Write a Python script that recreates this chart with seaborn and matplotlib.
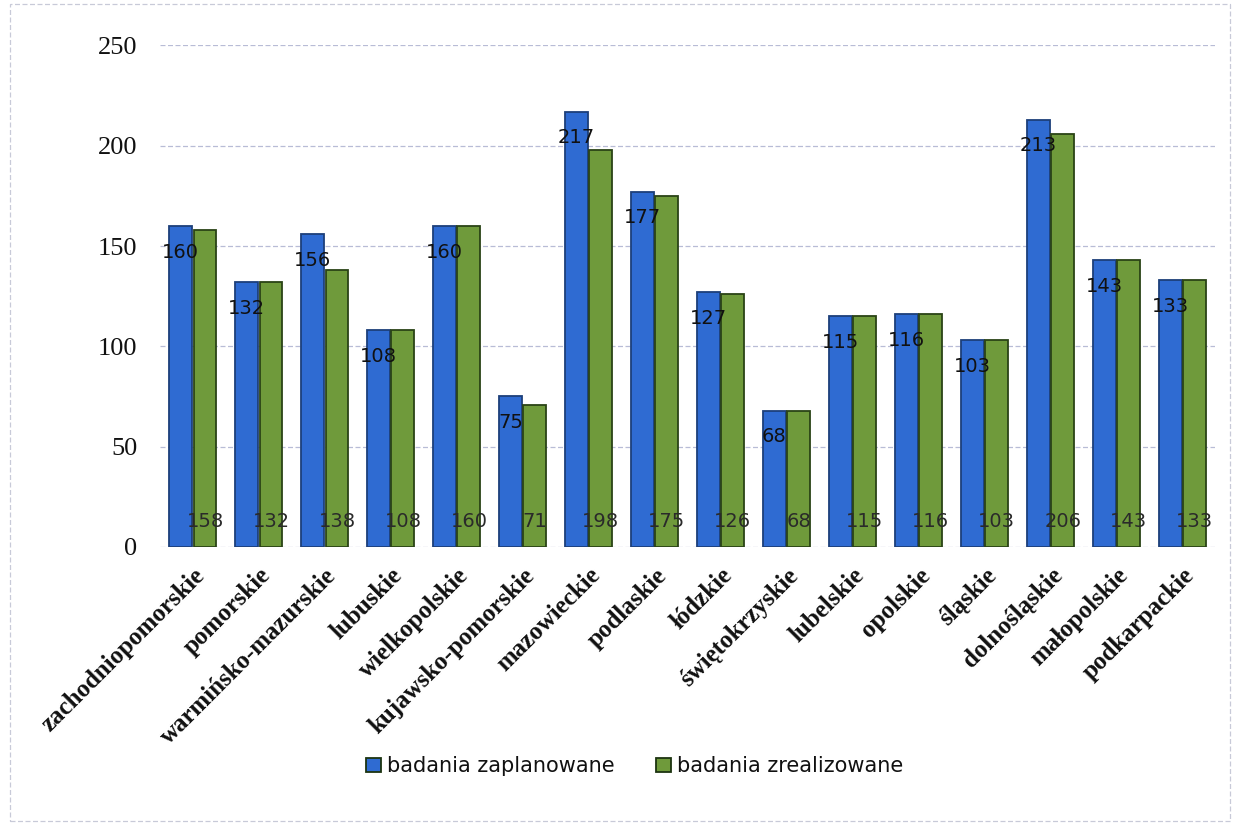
import matplotlib
matplotlib.use("Agg")
import matplotlib.pyplot as plt
import seaborn as sns
import pandas as pd
from matplotlib.patches import Rectangle

regions = ["zachodniopomorskie", "pomorskie", "warmińsko-mazurskie", "lubuskie",
           "wielkopolskie", "kujawsko-pomorskie", "mazowieckie", "podlaskie",
           "łódzkie", "świętokrzyskie", "lubelskie", "opolskie", "śląskie",
           "dolnośląskie", "małopolskie", "podkarpackie"]
planned = [160, 132, 156, 108, 160, 75, 217, 177, 127, 68, 115, 116, 103, 213, 143, 133]
realized = [158, 132, 138, 108, 160, 71, 198, 175, 126, 68, 115, 116, 103, 206, 143, 133]
series_names = ["badania zaplanowane", "badania zrealizowane"]
yticks = [0, 50, 100, 150, 200, 250]

df = pd.DataFrame({
    "region": regions * 2,
    "value": planned + realized,
    "series": [series_names[0]] * len(regions) + [series_names[1]] * len(regions),
})

sns.set_theme(style="white")
plt.rcParams['font.family'] = ['Liberation Serif', 'DejaVu Serif']

fig = plt.figure(figsize=(12.39, 8.25), dpi=100)
ax = fig.add_axes([0.129, 0.337, 0.852, 0.608])

palette = {series_names[0]: "#2f6bd2", series_names[1]: "#6f9a3b"}
sns.barplot(data=df, x="region", y="value", hue="series", palette=palette,
            width=0.74, gap=0.06, edgecolor="#1c3410", linewidth=1.3,
            saturation=1, ax=ax, legend=True)

for bar in ax.containers[0]:
    bar.set_edgecolor("#1d3f7a")
for bar in ax.containers[1]:
    bar.set_edgecolor("#2a4316")

ax.set_ylim(0, 250)
ax.set_xlim(-0.5, len(regions) - 0.5)
ax.set_yticks(yticks)
ax.set_yticklabels([str(t) for t in yticks], fontsize=19, family='Liberation Serif',
                   color="#111111")
ax.yaxis.grid(True, color="#b8bcd6", linestyle=(0, (4, 2)), linewidth=0.9)
ax.set_axisbelow(True)
for s in ax.spines.values():
    s.set_visible(False)
ax.tick_params(axis='y', length=0, pad=16)
ax.tick_params(axis='x', length=0, pad=12)
ax.set_xlabel("")
ax.set_ylabel("")
ax.set_xticks(range(len(regions)))
ax.set_xticklabels(regions, rotation=45, ha='right', rotation_mode='anchor',
                   fontsize=18, fontweight='bold', family='Liberation Serif',
                   color="#111111")

# value labels
for bar, v in zip(ax.containers[0], planned):
    cx = bar.get_x() + bar.get_width() / 2
    ax.text(cx, v - 13, str(v), ha='center', va='center', fontsize=14,
            color="#111111", family='DejaVu Sans')
for bar, v in zip(ax.containers[1], realized):
    cx = bar.get_x() + bar.get_width() / 2
    ax.text(cx, 12.5, str(v), ha='center', va='center', fontsize=14,
            color="#2a2a2a", family='DejaVu Sans')

leg = ax.legend(loc='upper center', bbox_to_anchor=(0.45, -0.38), ncol=2,
                frameon=False, handlelength=0.7, handleheight=0.7,
                handletextpad=0.3, columnspacing=2.0,
                prop={'family': ['Liberation Sans Narrow', 'DejaVu Sans'], 'size': 15})
for t in leg.get_texts():
    t.set_color("#111111")

fig.patches.append(Rectangle((0.008, 0.005), 0.985, 0.99, transform=fig.transFigure,
                             fill=False, edgecolor="#c8cad8", linestyle=(0, (4, 2)),
                             linewidth=0.9))

fig.savefig("out.png", dpi=100)
